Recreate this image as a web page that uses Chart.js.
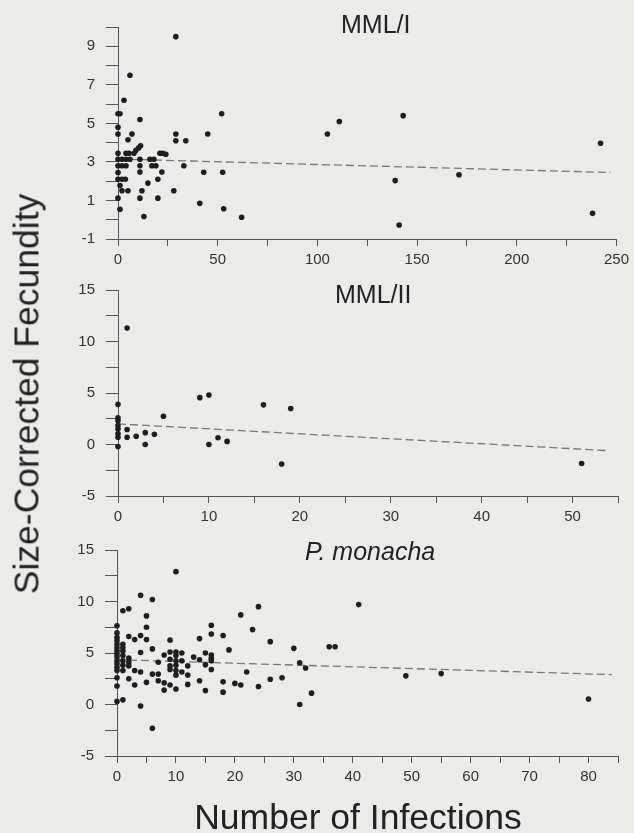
<!DOCTYPE html>
<html>
<head>
<meta charset="utf-8">
<script src="https://cdn.jsdelivr.net/npm/chart.js@4.4.1/dist/chart.umd.min.js"></script>
<style>
  html, body { margin: 0; padding: 0; background: #ebebe9; width: 634px; height: 833px; overflow: hidden; }
  canvas { position: absolute; left: 0; }
  .t { position: absolute; font-family: "Liberation Sans", Arial, sans-serif; color: #222; white-space: nowrap; }
  .title { font-size: 25px; line-height: 25px; }
  .axl { font-size: 35.5px; line-height: 35px; }
</style>
</head>
<body>
<canvas id="c1" width="634" height="270" style="top:0px"></canvas>
<canvas id="c2" width="634" height="260" style="top:270px"></canvas>
<canvas id="c3" width="634" height="280" style="top:530px"></canvas>

<div class="t title" style="left:341px; top:12px;">MML/I</div>
<div class="t title" style="left:335px; top:282px;">MML/II</div>
<div class="t title" style="left:305px; top:539px; font-style:italic;">P. monacha</div>
<div class="t axl" style="left:358px; top:800px; transform:translateX(-50%);">Number of Infections</div>
<div class="t axl" style="left:27px; top:394px; transform:translate(-50%,-50%) rotate(-90deg);">Size-Corrected Fecundity</div>

<script>
// ---------- DATA ----------
// Panel 1: MML/I  (x = number of infections, y = size-corrected fecundity)
const mml1X = [29, 6, 3, 0, 1, 11, 52, 0, 0, 7, 5, 29, 29, 34, 45, 105, 111, 143, 242, 139, 171, 141, 238,
  0, 4, 5.5, 8, 9, 10.3, 11.3, 21, 22.5, 24,
  0, 2, 4, 6, 11, 16, 18,
  0, 2, 4, 11, 17, 19, 33,
  0, 11, 22, 43, 52.5,
  0, 2, 3.7, 20,
  1, 15,
  2, 5, 12, 28,
  0, 11, 20,
  41, 1, 53, 13, 62];
const mml1Y = [9.5, 7.5, 6.2, 5.5, 5.5, 5.2, 5.5, 4.8, 4.45, 4.45, 4.15, 4.45, 4.1, 4.1, 4.45, 4.45, 5.1, 5.4, 3.97, 2.03, 2.33, -0.27, 0.33,
  3.45, 3.45, 3.45, 3.45, 3.6, 3.72, 3.84, 3.45, 3.45, 3.4,
  3.14, 3.14, 3.14, 3.14, 3.14, 3.14, 3.14,
  2.8, 2.8, 2.8, 2.8, 2.8, 2.8, 2.8,
  2.45, 2.48, 2.48, 2.46, 2.46,
  2.1, 2.1, 2.1, 2.1,
  1.77, 1.9,
  1.5, 1.5, 1.5, 1.5,
  1.12, 1.12, 1.12,
  0.85, 0.54, 0.57, 0.17, 0.13];
const mml1Fit = [[0, 3.15], [247, 2.45]];

// Panel 2: MML/II
const mml2X = [1, 0, 0, 0, 0, 0, 0, 0, 0, 1, 1, 2, 3, 3, 4, 5, 9, 10, 10, 11, 12, 16, 19, 18, 51];
const mml2Y = [11.3, 3.9, 2.6, 2.3, 1.85, 1.5, 1.05, 0.7, -0.2, 1.45, 0.7, 0.8, 1.15, 0, 1.0, 2.75, 4.55, 4.8, 0, 0.65, 0.3, 3.85, 3.5, -1.9, -1.85];
const mml2Fit = [[0, 2.0], [54, -0.6]];

// Panel 3: P. monacha
const monX = [
  0,0,0,0,0,0,0,0,0,0,0,0,0,0,0,0,
  1,1,1,1,1,1,1,1,1,
  2,2,2,2,2,2,
  3,3,3,
  4,4,4,4,4,
  5,5,5,5,
  6,6,6,6,
  7,7,7,
  8,8,8,
  9,9,9,9,9,9,
  10,10,10,10,10,10,10,10,
  11,11,11,
  12,12,12,
  13,
  14,14,14,
  15,15,15,
  16,16,16,16,16,16,
  18,18,18,
  19, 20, 21,21, 22, 23, 24,24, 26,26, 28, 30, 31,31, 32, 33, 36, 37, 41, 49, 55, 80];
const monY = [
  7.65,6.95,6.5,6.2,5.85,5.5,5.2,4.9,4.6,4.25,3.95,3.6,3.3,2.6,1.8,0.3,
  9.1,5.85,5.5,5.2,4.75,4.25,3.8,3.3,0.45,
  9.3,6.6,4.5,4.1,3.75,2.5,
  6.3,3.3,1.9,
  10.6,6.7,5.05,3.15,-0.15,
  8.6,7.5,6.3,2.15,
  10.2,5.4,2.95,-2.3,
  4.1,2.95,2.3,
  4.8,2.1,1.4,
  6.25,5.1,4.4,3.75,3.4,1.9,
  12.9,5.1,4.75,4.25,3.8,3.3,2.85,1.5,
  5.0,4.25,3.15,
  3.75,2.85,1.95,
  4.6,
  6.4,4.35,2.3,
  5.0,3.85,1.35,
  7.7,6.85,4.8,4.5,4.25,3.4,
  6.7,2.2,1.2,
  5.3, 2.05, 8.7,1.9, 3.15, 7.27, 9.5,1.75, 6.1,2.45, 2.6, 5.45, 4.05,0, 3.55, 1.1, 5.6, 5.6, 9.7, 2.78, 3.0, 0.53];
const monFit = [[0, 4.35], [84, 2.9]];

// Axis tick settings (value ranges, steps, which ticks carry labels)
const xRange1 = [0, 250, 25, 50];
const yRange1 = [-1, 10, 1];
const xRange2 = [0, 55, 5, 10];
const yRange2 = [-5, 15, 2.5, 5];
const xRange3 = [0, 85, 5, 10];
const yRange3 = [-5, 15, 2.5, 5];

// ---------- DRAWING ----------
const FONT = "'Liberation Sans', Arial, sans-serif";
const AX = '#555';

function pts(xs, ys) { return xs.map((x, i) => ({ x: x, y: ys[i] })); }

function makeChart(id, xs, ys, fit, xr, yr, yLabelFn, leftW, padTop, xAxisH) {
  new Chart(document.getElementById(id), {
    type: 'scatter',
    data: {
      datasets: [
        {
          data: pts(xs, ys),
          backgroundColor: '#1e1e1e',
          borderColor: '#1e1e1e',
          pointStyle: 'circle',
          pointRadius: 2.8,
          pointBorderWidth: 0,
          clip: false
        },
        {
          type: 'line',
          data: fit.map(p => ({ x: p[0], y: p[1] })),
          borderColor: '#777',
          borderWidth: 1.3,
          borderDash: [8, 4],
          pointRadius: 0,
          fill: false,
          clip: false
        }
      ]
    },
    options: {
      responsive: false,
      animation: false,
      devicePixelRatio: 1,
      layout: { padding: { left: 0, right: 16, top: padTop, bottom: 0 } },
      plugins: { legend: { display: false }, tooltip: { enabled: false } },
      scales: {
        x: {
          type: 'linear',
          min: xr[0], max: xr[1],
          afterFit: s => { s.height = xAxisH; },
          border: { display: true, color: AX, width: 1 },
          grid: { display: true, drawOnChartArea: false, drawTicks: true, tickLength: 7, color: AX },
          ticks: {
            stepSize: xr[2], autoSkip: false, maxRotation: 0, padding: 5,
            color: '#333', font: { family: FONT, size: 15 },
            callback: v => (Math.abs(v % xr[3]) < 1e-9 ? String(v) : '')
          }
        },
        y: {
          type: 'linear',
          min: yr[0], max: yr[1],
          afterFit: s => { s.width = leftW; },
          border: { display: true, color: AX, width: 1 },
          grid: { display: true, drawOnChartArea: false, drawTicks: true, tickLength: 12, color: AX },
          ticks: {
            stepSize: yr[2], autoSkip: false, padding: 11,
            color: '#333', font: { family: FONT, size: 15 },
            callback: yLabelFn
          }
        }
      }
    }
  });
}

makeChart('c1', mml1X, mml1Y, mml1Fit, xRange1, yRange1,
  v => ((Math.abs(v % 2) === 1 && v < 10) ? String(v) : ''), 118, 27, 31);
makeChart('c2', mml2X, mml2Y, mml2Fit, xRange2, yRange2,
  v => (Math.abs(v % yRange2[3]) < 1e-9 ? String(v) : ''), 118, 17, 34);
makeChart('c3', monX, monY, monFit, xRange3, yRange3,
  v => (Math.abs(v % yRange3[3]) < 1e-9 ? String(v) : ''), 117, 15, 54);
</script>
</body>
</html>
